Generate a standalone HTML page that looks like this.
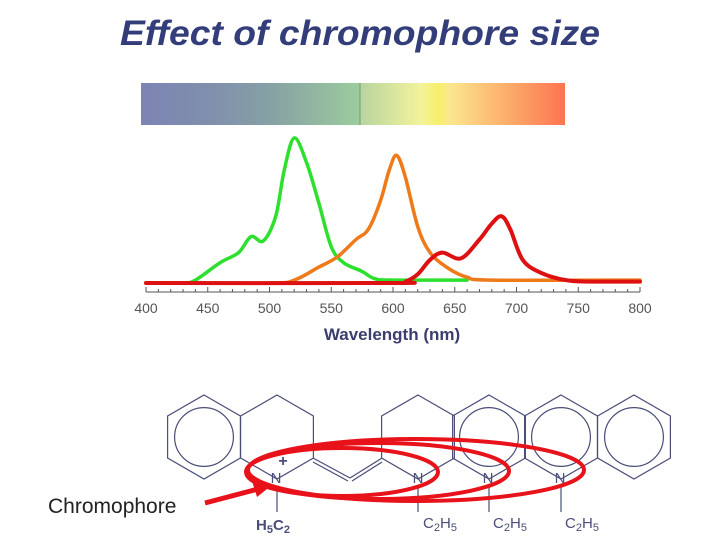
<!DOCTYPE html>
<html><head><meta charset="utf-8"><style>
body{margin:0;background:#fff;width:720px;height:540px;overflow:hidden}
svg{display:block}
</style></head><body>
<svg id="chart" width="720" height="540" viewBox="0 0 720 540" font-family="Liberation Sans, sans-serif">
<defs>
<linearGradient id="spec" x1="0" x2="1" y1="0" y2="0">
<stop offset="0" stop-color="#7d84b4"/><stop offset="0.15" stop-color="#7f8ead"/><stop offset="0.3" stop-color="#86a0a4"/>
<stop offset="0.516" stop-color="#9ccc9e"/><stop offset="0.518" stop-color="#b9d4a0"/><stop offset="0.66" stop-color="#f2f39c"/>
<stop offset="0.7" stop-color="#f7f06a"/><stop offset="0.73" stop-color="#fbe690"/><stop offset="0.85" stop-color="#fcb36e"/><stop offset="1" stop-color="#fd7450"/>
</linearGradient>
</defs>
<text x="120" y="45" textLength="480" lengthAdjust="spacingAndGlyphs" font-size="35" font-weight="bold" font-style="italic" fill="#333d7a">Effect of chromophore size</text>
<rect x="141" y="83" width="424" height="42" fill="url(#spec)"/>
<line x1="360" y1="83" x2="360" y2="125" stroke="#6aa070" stroke-width="1"/>
<g id="axis"></g>
<g id="series"></g>
<text x="392" y="340" text-anchor="middle" font-size="17" font-weight="bold" fill="#3a3d6e">Wavelength (nm)</text>
<g id="mol" stroke="#4a4e78" stroke-width="1.2" fill="none"></g>
<g font-size="15" fill="#4a4e78">
<text x="276" y="483" text-anchor="middle">N</text>
<text x="283" y="466" text-anchor="middle" font-size="16" font-weight="bold">+</text>
<text x="418" y="483" text-anchor="middle">N</text>
<text x="488" y="483" text-anchor="middle">N</text>
<text x="560" y="483" text-anchor="middle">N</text>
<text x="273" y="530" text-anchor="middle" font-weight="bold">H<tspan font-size="11" dy="3">5</tspan><tspan dy="-3">C</tspan><tspan font-size="11" dy="3">2</tspan></text>
<text x="440" y="528" text-anchor="middle">C<tspan font-size="11" dy="3">2</tspan><tspan dy="-3">H</tspan><tspan font-size="11" dy="3">5</tspan></text>
<text x="510" y="528" text-anchor="middle">C<tspan font-size="11" dy="3">2</tspan><tspan dy="-3">H</tspan><tspan font-size="11" dy="3">5</tspan></text>
<text x="582" y="528" text-anchor="middle">C<tspan font-size="11" dy="3">2</tspan><tspan dy="-3">H</tspan><tspan font-size="11" dy="3">5</tspan></text>
</g>
<g fill="none" stroke="#e8121a" stroke-width="4">
<ellipse cx="342" cy="472" rx="96" ry="24"/>
<ellipse cx="378" cy="471" rx="131" ry="28"/>
<ellipse cx="416" cy="470" rx="168" ry="31"/>
</g>
<line x1="205" y1="503" x2="258" y2="489" stroke="#e8121a" stroke-width="5"/>
<polygon points="272,485 252,481 257,497" fill="#e8121a"/>
<text x="48" y="513" font-size="21" fill="#222">Chromophore</text>
</svg>
<script>
const ticks=[400,450,500,550,600,650,700,750,800];
const greenWl=[400,430,440,460,475,485,495,505,512,520,530,540,550,560,575,585,600,660];
const greenVal=[0,0,2,14,21,32,29,46,78,100,83,55,25,14,8,3,2,2];
const orangeWl=[400,500,520,540,555,570,580,590,597,603,610,620,630,645,660,680,800];
const orangeVal=[0,0,2,11,18,30,37,57,78,88,73,39,21,10,4,2,2];
const redWl=[400,600,610,620,630,640,655,670,680,688,695,705,720,740,760,800];
const redVal=[0,0,1,6,16,21,17,30,41,46,37,16,7,2,1,1];
const NS='http://www.w3.org/2000/svg';
const x=w=>146+(w-400)*(494/400);
const y=v=>283-v*1.45;
const ax=document.getElementById('axis');
function mk(t,a,p){const e=document.createElementNS(NS,t);for(const k in a)e.setAttribute(k,a[k]);p.appendChild(e);return e;}
const base=mk('line',{x1:x(400),x2:x(800),y1:292,y2:292,stroke:'#555','stroke-width':1},ax);


for(let w=400;w<=800;w+=10){const big=w%50===0;const t=mk('line',{x1:x(w),x2:x(w),y1:big?287:289,y2:292,stroke:'#555','stroke-width':1},ax);

}
ticks.forEach(w=>{const t=mk('text',{x:x(w),y:313,'text-anchor':'middle','font-size':14,fill:'#555'},ax);t.textContent=w;

});
const sr=document.getElementById('series');
function path(wl,val,col,name,sw){const P=wl.map((w,i)=>[x(w),y(val[i])]);
let d='M'+P[0][0].toFixed(1)+','+P[0][1].toFixed(1);
for(let i=0;i<P.length-1;i++){const p0=P[Math.max(i-1,0)],p1=P[i],p2=P[i+1],p3=P[Math.min(i+2,P.length-1)];
const c1=[p1[0]+(p2[0]-p0[0])/6,p1[1]+(p2[1]-p0[1])/6],c2=[p2[0]-(p3[0]-p1[0])/6,p2[1]-(p3[1]-p1[1])/6];
d+='C'+c1.map(v=>v.toFixed(1)).join(',')+' '+c2.map(v=>v.toFixed(1)).join(',')+' '+p2.map(v=>v.toFixed(1)).join(',');}
const p=mk('path',{d:d,fill:'none',stroke:col,'stroke-width':sw,'stroke-linejoin':'round','stroke-linecap':'round'},sr);

}
path(greenWl,greenVal,'#2ee02e','green-spectrum',3.5);
path(orangeWl,orangeVal,'#ee7a1a','orange-spectrum',3.5);
path(redWl,redVal,'#dd1111','red-spectrum',4);
const mol=document.getElementById('mol');
function hex(cx,cy,r,circ){let pts=[];for(let i=0;i<6;i++){const a=Math.PI/180*(60*i-90);pts.push((cx+r*Math.cos(a)).toFixed(1)+','+(cy+r*Math.sin(a)).toFixed(1));}
const h=mk('polygon',{points:pts.join(' ')},mol);


if(circ){const c=mk('circle',{cx:cx,cy:cy,r:r*0.7},mol);

}}
const R=42;
hex(204,437,R,true);hex(277,437,R,false);hex(418,437,R,false);hex(489,437,R,true);hex(561,437,R,true);hex(634,437,R,true);
function ln(a,b,c,d){const l=mk('line',{x1:a,y1:b,x2:c,y2:d},mol);

}
ln(313,458,350,478);ln(350,478,382,458);ln(313,462,348,481);ln(352,481,382,462);
ln(277,486,277,512);ln(418,486,418,512);ln(489,486,489,512);ln(561,486,561,512);
</script>
</body></html>
